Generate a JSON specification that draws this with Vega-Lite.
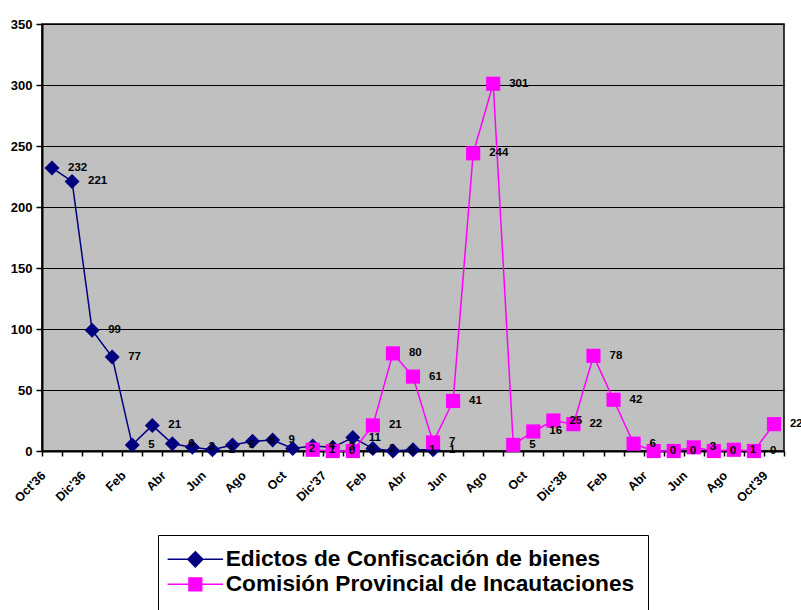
{
  "$schema": "https://vega.github.io/schema/vega-lite/v6.json",
  "width": 742,
  "height": 427,
  "autosize": {"type": "none"},
  "padding": {"left": 42, "top": 24, "right": 17, "bottom": 159},
  "background": "white",
  "data": {
    "values": [
      {"mes": "Oct'36", "serie": "Edictos de Confiscación de bienes", "valor": 232},
      {"mes": "Nov'36", "serie": "Edictos de Confiscación de bienes", "valor": 221},
      {"mes": "Dic'36", "serie": "Edictos de Confiscación de bienes", "valor": 99},
      {"mes": "Ene'37", "serie": "Edictos de Confiscación de bienes", "valor": 77},
      {"mes": "Feb'37", "serie": "Edictos de Confiscación de bienes", "valor": 5},
      {"mes": "Mar'37", "serie": "Edictos de Confiscación de bienes", "valor": 21},
      {"mes": "Abr'37", "serie": "Edictos de Confiscación de bienes", "valor": 6},
      {"mes": "May'37", "serie": "Edictos de Confiscación de bienes", "valor": 3},
      {"mes": "Jun'37", "serie": "Edictos de Confiscación de bienes", "valor": 1},
      {"mes": "Jul'37", "serie": "Edictos de Confiscación de bienes", "valor": 5},
      {"mes": "Ago'37", "serie": "Edictos de Confiscación de bienes", "valor": 8},
      {"mes": "Sep'37", "serie": "Edictos de Confiscación de bienes", "valor": 9},
      {"mes": "Oct'37", "serie": "Edictos de Confiscación de bienes", "valor": 2},
      {"mes": "Nov'37", "serie": "Edictos de Confiscación de bienes", "valor": 4},
      {"mes": "Dic'37", "serie": "Edictos de Confiscación de bienes", "valor": 3},
      {"mes": "Ene'38", "serie": "Edictos de Confiscación de bienes", "valor": 11},
      {"mes": "Feb'38", "serie": "Edictos de Confiscación de bienes", "valor": 2},
      {"mes": "Mar'38", "serie": "Edictos de Confiscación de bienes", "valor": 0},
      {"mes": "Abr'38", "serie": "Edictos de Confiscación de bienes", "valor": 1},
      {"mes": "May'38", "serie": "Edictos de Confiscación de bienes", "valor": 1},
      {"mes": "Nov'37", "serie": "Comisión Provincial de Incautaciones", "valor": 1},
      {"mes": "Dic'37", "serie": "Comisión Provincial de Incautaciones", "valor": 0},
      {"mes": "Ene'38", "serie": "Comisión Provincial de Incautaciones", "valor": 0},
      {"mes": "Feb'38", "serie": "Comisión Provincial de Incautaciones", "valor": 21},
      {"mes": "Mar'38", "serie": "Comisión Provincial de Incautaciones", "valor": 80},
      {"mes": "Abr'38", "serie": "Comisión Provincial de Incautaciones", "valor": 61},
      {"mes": "May'38", "serie": "Comisión Provincial de Incautaciones", "valor": 7},
      {"mes": "Jun'38", "serie": "Comisión Provincial de Incautaciones", "valor": 41},
      {"mes": "Jul'38", "serie": "Comisión Provincial de Incautaciones", "valor": 244},
      {"mes": "Ago'38", "serie": "Comisión Provincial de Incautaciones", "valor": 301},
      {"mes": "Sep'38", "serie": "Comisión Provincial de Incautaciones", "valor": 5},
      {"mes": "Oct'38", "serie": "Comisión Provincial de Incautaciones", "valor": 16},
      {"mes": "Nov'38", "serie": "Comisión Provincial de Incautaciones", "valor": 25},
      {"mes": "Dic'38", "serie": "Comisión Provincial de Incautaciones", "valor": 22},
      {"mes": "Ene'39", "serie": "Comisión Provincial de Incautaciones", "valor": 78},
      {"mes": "Feb'39", "serie": "Comisión Provincial de Incautaciones", "valor": 42},
      {"mes": "Mar'39", "serie": "Comisión Provincial de Incautaciones", "valor": 6},
      {"mes": "Abr'39", "serie": "Comisión Provincial de Incautaciones", "valor": 0},
      {"mes": "May'39", "serie": "Comisión Provincial de Incautaciones", "valor": 0},
      {"mes": "Jun'39", "serie": "Comisión Provincial de Incautaciones", "valor": 3},
      {"mes": "Jul'39", "serie": "Comisión Provincial de Incautaciones", "valor": 0},
      {"mes": "Ago'39", "serie": "Comisión Provincial de Incautaciones", "valor": 1},
      {"mes": "Sep'39", "serie": "Comisión Provincial de Incautaciones", "valor": 0},
      {"mes": "Oct'39", "serie": "Comisión Provincial de Incautaciones", "valor": 22}
    ]
  },
  "encoding": {
    "x": {
      "field": "mes",
      "type": "nominal",
      "title": null,
      "scale": {
        "domain": ["Oct'36","Nov'36","Dic'36","Ene'37","Feb'37","Mar'37","Abr'37","May'37","Jun'37","Jul'37","Ago'37","Sep'37","Oct'37","Nov'37","Dic'37","Ene'38","Feb'38","Mar'38","Abr'38","May'38","Jun'38","Jul'38","Ago'38","Sep'38","Oct'38","Nov'38","Dic'38","Ene'39","Feb'39","Mar'39","Abr'39","May'39","Jun'39","Jul'39","Ago'39","Sep'39","Oct'39"],
        "paddingInner": 0,
        "paddingOuter": 0
      },
      "axis": {
        "labelExpr": "indexof(['Oct','Dic','Feb','Abr','Jun','Ago'], substring(datum.label + '',0,3)) < 0 ? '' : (indexof([\"Oct'36\",\"Dic'36\",\"Dic'37\",\"Dic'38\",\"Oct'39\"], datum.label + '') >= 0 ? datum.label : substring(datum.label + '',0,3))",
        "labelAngle": -45,
        "labelAlign": "right",
        "labelBaseline": "middle",
        "labelOverlap": false,
        "labelFont": "Liberation Sans",
        "labelFontWeight": "bold",
        "labelFontSize": 12.5,
        "labelColor": "black",
        "labelPadding": 17,
        "labelOffset": -9,
        "tickBand": "extent",
        "tickColor": "black",
        "tickSize": 5,
        "tickWidth": 1.5,
        "domainColor": "black",
        "domainWidth": 2,
        "grid": false
      }
    },
    "y": {
      "field": "valor",
      "type": "quantitative",
      "title": null,
      "scale": {"domain": [0, 350], "nice": false},
      "axis": {
        "values": [0, 50, 100, 150, 200, 250, 300, 350],
        "labelFont": "Liberation Sans",
        "labelFontWeight": "bold",
        "labelFontSize": 13,
        "labelColor": "black",
        "labelPadding": 4,
        "tickColor": "black",
        "tickSize": 6,
        "tickWidth": 1.5,
        "domainColor": "black",
        "domainWidth": 2,
        "grid": true,
        "gridColor": "black",
        "gridWidth": 1.2,
        "gridOpacity": 1
      }
    },
    "color": {
      "field": "serie",
      "type": "nominal",
      "scale": {
        "domain": ["Edictos de Confiscación de bienes", "Comisión Provincial de Incautaciones"],
        "range": ["#000080", "#FF00FF"]
      },
      "legend": {
        "orient": "none",
        "legendX": 116,
        "legendY": 511,
        "direction": "vertical",
        "title": null,
        "labelFont": "Liberation Sans",
        "labelFontWeight": "bold",
        "labelFontSize": 22.7,
        "labelColor": "black",
        "labelLimit": 0,
        "symbolSize": 225,
        "symbolStrokeWidth": 1.5,
        "symbolOffset": 13,
        "labelOffset": 19,
        "rowPadding": 1,
        "padding": 13,
        "strokeColor": "black",
        "fillColor": "white",
        "symbolOpacity": 1,
        "encode": {
          "symbols": {
            "update": {
              "shape": {"signal": "datum.value === 'Edictos de Confiscación de bienes' ? 'M-3.7,0H-1M0,-1L1,0L0,1L-1,0ZM1,0H3.7' : 'M-3.7,0H3.7M-0.85,-0.85H0.85V0.85H-0.85Z'"},
              "fill": {"scale": "color", "field": "value"},
              "stroke": {"scale": "color", "field": "value"},
              "opacity": {"value": 1}
            }
          }
        }
      }
    }
  },
  "layer": [
    {
      "transform": [{"filter": "datum.serie === 'Edictos de Confiscación de bienes'"}],
      "mark": {"type": "line", "strokeWidth": 1.5}
    },
    {
      "transform": [{"filter": "datum.serie === 'Edictos de Confiscación de bienes'"}],
      "mark": {"type": "point", "filled": true, "shape": "diamond", "size": 225, "opacity": 1}
    },
    {
      "transform": [{"filter": "datum.serie === 'Comisión Provincial de Incautaciones'"}],
      "mark": {"type": "line", "strokeWidth": 1.5}
    },
    {
      "transform": [{"filter": "datum.serie === 'Comisión Provincial de Incautaciones'"}],
      "mark": {"type": "point", "filled": true, "shape": "square", "size": 200, "opacity": 1}
    },
    {
      "mark": {"type": "text", "align": "left", "baseline": "middle", "dx": 16, "font": "Liberation Sans", "fontWeight": "bold", "fontSize": 11.5, "color": "black"},
      "encoding": {
        "text": {"field": "valor", "type": "quantitative"},
        "color": {"value": "black"}
      }
    }
  ],
  "config": {
    "view": {"fill": "#C0C0C0", "stroke": "black", "strokeWidth": 1.5}
  }
}
